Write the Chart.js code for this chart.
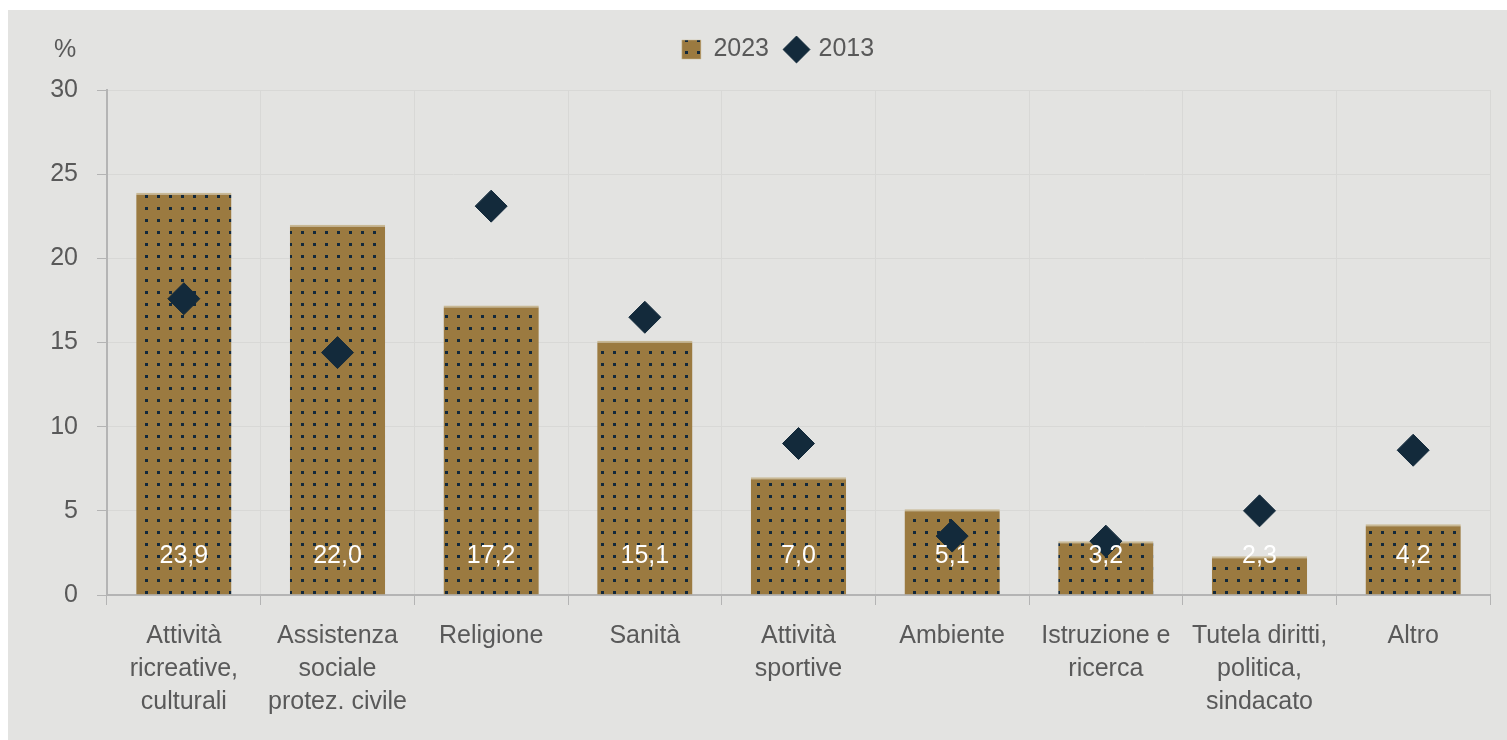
<!DOCTYPE html>
<html lang="it">
<head>
<meta charset="utf-8">
<script src="https://cdn.jsdelivr.net/npm/chart.js@4/dist/chart.umd.min.js"></script>
<style>
  body { margin: 0; background: #fff; }
  #pannello { position: absolute; left: 8px; top: 10px; width: 1499px; height: 730px; background: #e3e3e1; }
</style>
</head>
<body>
<div id="pannello"><canvas id="grafico" width="1499" height="730"></canvas></div>
<script>
// Settori di attività e quote percentuali
let settori = [
    ['Attività', 'ricreative,', 'culturali'],
    ['Assistenza', 'sociale', 'protez. civile'],
    'Religione',
    'Sanità',
    ['Attività', 'sportive'],
    'Ambiente',
    ['Istruzione e', 'ricerca'],
    ['Tutela diritti,', 'politica,', 'sindacato'],
    'Altro'
];
let valori2023 = [23.9, 22.0, 17.2, 15.1, 7.0, 5.1, 3.2, 2.3, 4.2];
let valori2013 = [17.6, 14.4, 23.1, 16.5, 9.0, 3.5, 3.2, 5.0, 8.6];
let tickY = [0, 5, 10, 15, 20, 25, 30];

const FONT = "'Liberation Sans', Arial, sans-serif";
const GRIGIO = '#595959';

// Riempimento a puntini per le barre
function creaTrama() {
    let c = document.createElement('canvas');
    c.width = 12;
    c.height = 12;
    let g = c.getContext('2d');
    g.fillStyle = '#9b7a40';
    g.fillRect(0, 0, 12, 12);
    g.fillStyle = '#13293b';
    g.fillRect(5, 5, 3, 3);
    return document.getElementById('grafico').getContext('2d').createPattern(c, 'repeat');
}

// Spazio in più sotto la legenda e spostamento verso destra
const spazioLegenda = {
    id: 'spazioLegenda',
    afterInit(chart) {
        let legenda = chart.legend;
        let fit = legenda.fit.bind(legenda);
        legenda.fit = function () {
            fit();
            this.height += 18;
        };
    },
    afterLayout(chart) {
        chart.legend.left += 24;
        chart.legend.right += 24;
    }
};

// Etichette dei valori in fondo alle barre e simbolo % sopra l'asse
const etichette = {
    id: 'etichette',
    afterDatasetsDraw(chart) {
        let ctx = chart.ctx;
        let meta = chart.getDatasetMeta(0);
        let fondo = chart.scales.y.getPixelForValue(0);
        ctx.save();
        ctx.font = '25px ' + FONT;
        ctx.fillStyle = '#ffffff';
        ctx.textAlign = 'center';
        ctx.textBaseline = 'middle';
        meta.data.forEach((barra, i) => {
            ctx.fillText(valori2023[i].toFixed(1).replace('.', ','), barra.x, fondo - 39);
        });
        ctx.fillStyle = GRIGIO;
        ctx.fillText('%', chart.chartArea.left - 42, chart.chartArea.top - 40);
        ctx.restore();
    }
};

function creaGrafico() {
    let ctx = document.getElementById('grafico').getContext('2d');
    new Chart(ctx, {
        data: {
            labels: settori,
            datasets: [{
                type: 'bar',
                label: '2023',
                data: valori2023,
                backgroundColor: creaTrama(),
                borderColor: '#c8b894',
                borderWidth: { top: 2, left: 0, right: 0, bottom: 0 },
                barPercentage: 0.62,
                categoryPercentage: 1,
                pointStyle: 'rect',
                order: 2
            }, {
                type: 'line',
                label: '2013',
                data: valori2013,
                showLine: false,
                pointStyle: 'rectRot',
                pointRadius: 16,
                pointHoverRadius: 16,
                backgroundColor: '#132a3b',
                borderColor: '#132a3b',
                borderWidth: 1,
                order: 1
            }]
        },
        options: {
            responsive: false,
            animation: false,
            layout: { padding: { top: 9, right: 7, bottom: 6, left: 0 } },
            plugins: {
                tooltip: { enabled: false },
                legend: {
                    position: 'top',
                    labels: {
                        usePointStyle: true,
                        boxWidth: 19,
                        boxHeight: 19,
                        padding: 18,
                        color: GRIGIO,
                        font: { family: FONT, size: 25 },
                        sort: (a, b) => a.datasetIndex - b.datasetIndex
                    }
                }
            },
            scales: {
                x: {
                    grid: { color: '#d8d8d6', tickColor: '#b4b4b4', tickLength: 10, offset: true },
                    border: { color: '#b4b4b4', width: 2 },
                    ticks: {
                        color: GRIGIO,
                        padding: 15,
                        maxRotation: 0,
                        autoSkip: false,
                        font: { family: FONT, size: 25, lineHeight: 1.32 }
                    }
                },
                y: {
                    min: 0,
                    max: 30,
                    afterFit(scale) { scale.width = 99; },
                    afterBuildTicks(scale) { scale.ticks = tickY.map(v => ({ value: v })); },
                    grid: { color: '#d8d8d6', tickColor: '#b4b4b4', tickLength: 10 },
                    border: { color: '#b4b4b4', width: 2 },
                    ticks: {
                        color: GRIGIO,
                        padding: 19,
                        font: { family: FONT, size: 25 }
                    }
                }
            }
        },
        plugins: [spazioLegenda, etichette]
    });
}

document.addEventListener('DOMContentLoaded', creaGrafico);
</script>
</body>
</html>
